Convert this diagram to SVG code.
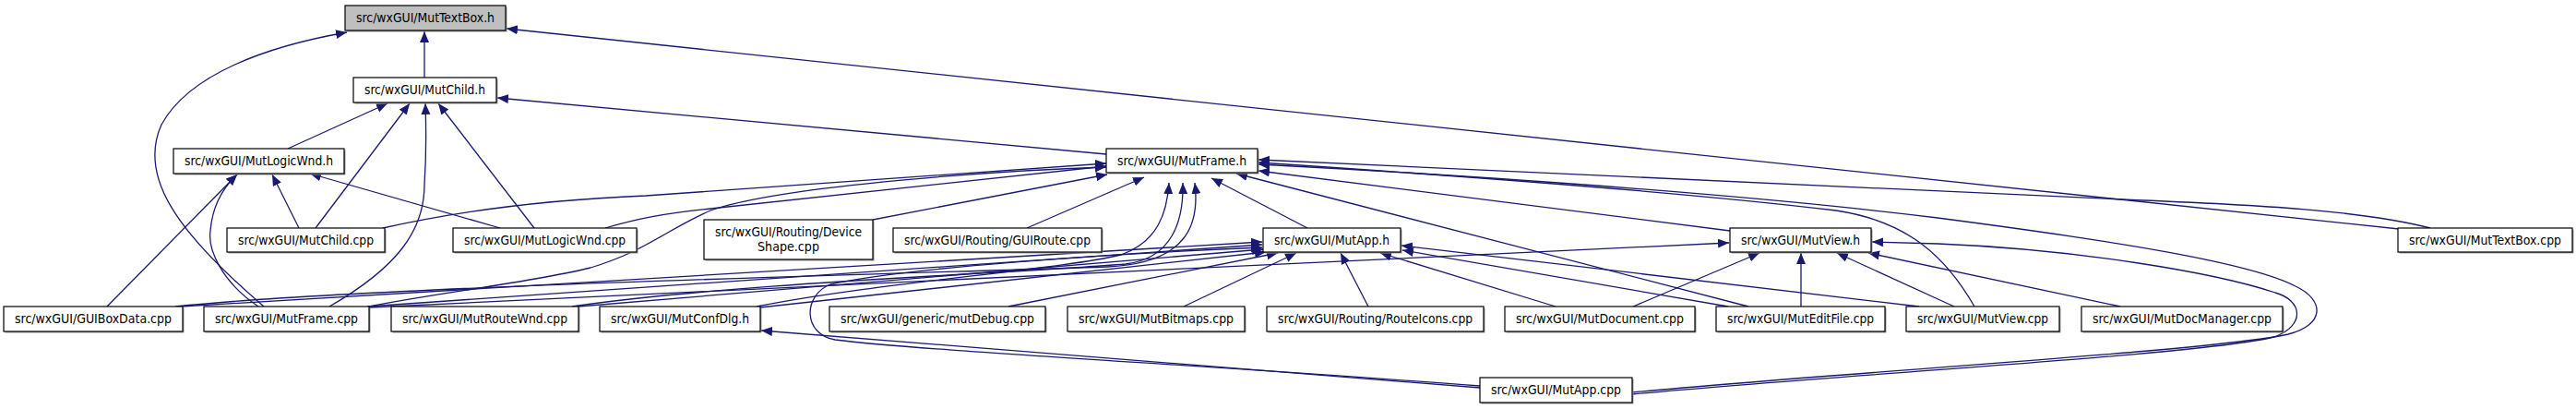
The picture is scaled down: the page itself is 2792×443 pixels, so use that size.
<svg xmlns="http://www.w3.org/2000/svg" width="2792" height="443" viewBox="0 0 2792 443">
<style>
.box{fill:#fff;stroke:#000;stroke-width:1.2}
.root .box{fill:#bfbfbf}
.sh{fill:#9a9a9a}
text{font-family:"DejaVu Sans Condensed","DejaVu Sans",sans-serif;font-stretch:condensed;font-size:13.3px;text-anchor:middle;fill:#000}
.e path{fill:none;stroke:#191970;stroke-width:1.3;marker-end:url(#ah)}
</style>
<defs>
<marker id="ah" markerUnits="userSpaceOnUse" markerWidth="13" markerHeight="11" refX="12" refY="5" orient="auto"><path d="M0,0 L12,5 L0,10 z" fill="#191970"/></marker>
</defs>
<rect width="2792" height="443" fill="#fff"/>
<g id="connectors" class="e">
<path d="M460,84 L460,34"/>
<path d="M286,332 C 190,250 150,190 175,135 C 205,80 290,50 376,35"/>
<path d="M2600,248 L549,31"/>
<path d="M312,161 L420,112"/>
<path d="M342,247 L444,112"/>
<path d="M357,332 C 430,290 460,250 460,200 C 462,170 462,140 461,112"/>
<path d="M579,247 L475,112"/>
<path d="M1199,167 L539,106"/>
<path d="M116,332 L257,189"/>
<path d="M280,332 C 240,305 225,270 228,250 C 230,225 240,205 257,189"/>
<path d="M324,247 L295,189"/>
<path d="M542,247 L336,188"/>
<path d="M415,247 C 500,228 600,216 700,212 L1199,177"/>
<path d="M656,247 C 690,237 720,231 770,226 L1199,180"/>
<path d="M400,332 C 470,318 580,305 640,290 C 700,272 720,250 770,228 C 850,200 1100,184 1199,181"/>
<path d="M946,238 L1200,189"/>
<path d="M1113,247 L1240,192"/>
<path d="M190,332 C 400,310 1000,296 1200,289 C 1290,285 1300,240 1295,198"/>
<path d="M620,332 C 800,306 1100,296 1220,286 C 1270,280 1283,240 1282,198"/>
<path d="M820,332 C 950,306 1150,292 1215,276 C 1255,262 1265,230 1267,198"/>
<path d="M1417,247 L1313,193"/>
<path d="M1895,332 L1340,188"/>
<path d="M2634,247 C 2560,228 2450,222 2300,216 L1364,173"/>
<path d="M2140,332 C 2110,280 2070,240 1990,228 C 1800,205 1500,185 1364,176"/>
<path d="M1769,425 C 2000,403 2400,380 2480,362 C 2520,352 2520,325 2488,310 C 2440,285 2300,262 2100,236 C 1850,205 1500,185 1364,178"/>
<path d="M1769,427 C 2000,405 2380,385 2465,365 C 2500,352 2495,325 2466,317 C 2400,295 2250,270 2100,264 L2029,262"/>
<path d="M1875,250 L1364,185"/>
<path d="M400,333 L1874,263"/>
<path d="M1770,332 L1907,274"/>
<path d="M1952,332 L1952,274"/>
<path d="M2118,332 L1991,274"/>
<path d="M2298,332 L2025,274"/>
<path d="M1604,420 L825,358"/>
<path d="M1604,418 C 1300,395 1000,380 905,368 C 870,362 870,320 900,308 C 980,290 1200,275 1368,268"/>
<path d="M196,332 L1368,262"/>
<path d="M398,332 L1368,265"/>
<path d="M627,332 L1369,270"/>
<path d="M824,333 L1372,273"/>
<path d="M1093,332 L1385,274"/>
<path d="M1283,332 L1405,274"/>
<path d="M1483,332 L1453,274"/>
<path d="M1686,332 L1496,274"/>
<path d="M1873,332 L1520,271"/>
<path d="M2080,332 L1519,266"/>
</g>
<g id="n_MutTextBox_h" class="root"><rect class="sh" x="375.5" y="7.5" width="174" height="27"/><rect class="box" x="374" y="6" width="174" height="27"/><text x="461" y="24" textLength="150" lengthAdjust="spacingAndGlyphs">src/wxGUI/MutTextBox.h</text></g>
<g id="n_MutChild_h"><rect class="sh" x="384.5" y="85.5" width="155" height="27"/><rect class="box" x="383" y="84" width="155" height="27"/><text x="460.5" y="102" textLength="131" lengthAdjust="spacingAndGlyphs">src/wxGUI/MutChild.h</text></g>
<g id="n_MutLogicWnd_h"><rect class="sh" x="189.5" y="162.5" width="185" height="27"/><rect class="box" x="188" y="161" width="185" height="27"/><text x="280.5" y="179" textLength="161" lengthAdjust="spacingAndGlyphs">src/wxGUI/MutLogicWnd.h</text></g>
<g id="n_MutFrame_h"><rect class="sh" x="1200.5" y="162.5" width="164" height="26"/><rect class="box" x="1199" y="161" width="164" height="26"/><text x="1281" y="179" textLength="140" lengthAdjust="spacingAndGlyphs">src/wxGUI/MutFrame.h</text></g>
<g id="n_MutChild_cpp"><rect class="sh" x="247.5" y="248.5" width="171" height="26"/><rect class="box" x="246" y="247" width="171" height="26"/><text x="331.5" y="265" textLength="147" lengthAdjust="spacingAndGlyphs">src/wxGUI/MutChild.cpp</text></g>
<g id="n_MutLogicWnd_cpp"><rect class="sh" x="492.5" y="248.5" width="199" height="26"/><rect class="box" x="491" y="247" width="199" height="26"/><text x="590.5" y="265" textLength="175" lengthAdjust="spacingAndGlyphs">src/wxGUI/MutLogicWnd.cpp</text></g>
<g id="n_DeviceShape_cpp"><rect class="sh" x="764.5" y="239.5" width="183" height="43"/><rect class="box" x="763" y="238" width="183" height="43"/><text x="854.5" y="256" textLength="159" lengthAdjust="spacingAndGlyphs">src/wxGUI/Routing/Device</text><text x="854.5" y="272" textLength="67" lengthAdjust="spacingAndGlyphs">Shape.cpp</text></g>
<g id="n_GUIRoute_cpp"><rect class="sh" x="969.5" y="248.5" width="226" height="26"/><rect class="box" x="968" y="247" width="226" height="26"/><text x="1081" y="265" textLength="202" lengthAdjust="spacingAndGlyphs">src/wxGUI/Routing/GUIRoute.cpp</text></g>
<g id="n_MutApp_h"><rect class="sh" x="1370.5" y="248.5" width="149" height="26"/><rect class="box" x="1369" y="247" width="149" height="26"/><text x="1443.5" y="265" textLength="125" lengthAdjust="spacingAndGlyphs">src/wxGUI/MutApp.h</text></g>
<g id="n_MutView_h"><rect class="sh" x="1876.5" y="248.5" width="153" height="26"/><rect class="box" x="1875" y="247" width="153" height="26"/><text x="1951.5" y="265" textLength="129" lengthAdjust="spacingAndGlyphs">src/wxGUI/MutView.h</text></g>
<g id="n_MutTextBox_cpp"><rect class="sh" x="2600.5" y="248.5" width="189" height="26"/><rect class="box" x="2599" y="247" width="189" height="26"/><text x="2693.5" y="265" textLength="165" lengthAdjust="spacingAndGlyphs">src/wxGUI/MutTextBox.cpp</text></g>
<g id="n_GUIBoxData_cpp"><rect class="sh" x="5.5" y="333.5" width="194" height="27"/><rect class="box" x="4" y="332" width="194" height="27"/><text x="101" y="350" textLength="170" lengthAdjust="spacingAndGlyphs">src/wxGUI/GUIBoxData.cpp</text></g>
<g id="n_MutFrame_cpp"><rect class="sh" x="222.5" y="333.5" width="179" height="27"/><rect class="box" x="221" y="332" width="179" height="27"/><text x="310.5" y="350" textLength="155" lengthAdjust="spacingAndGlyphs">src/wxGUI/MutFrame.cpp</text></g>
<g id="n_MutRouteWnd_cpp"><rect class="sh" x="425.5" y="333.5" width="203" height="27"/><rect class="box" x="424" y="332" width="203" height="27"/><text x="525.5" y="350" textLength="179" lengthAdjust="spacingAndGlyphs">src/wxGUI/MutRouteWnd.cpp</text></g>
<g id="n_MutConfDlg_h"><rect class="sh" x="651.5" y="333.5" width="174" height="27"/><rect class="box" x="650" y="332" width="174" height="27"/><text x="737" y="350" textLength="150" lengthAdjust="spacingAndGlyphs">src/wxGUI/MutConfDlg.h</text></g>
<g id="n_mutDebug_cpp"><rect class="sh" x="900.5" y="333.5" width="234" height="27"/><rect class="box" x="899" y="332" width="234" height="27"/><text x="1016" y="350" textLength="210" lengthAdjust="spacingAndGlyphs">src/wxGUI/generic/mutDebug.cpp</text></g>
<g id="n_MutBitmaps_cpp"><rect class="sh" x="1158.5" y="333.5" width="192" height="27"/><rect class="box" x="1157" y="332" width="192" height="27"/><text x="1253" y="350" textLength="168" lengthAdjust="spacingAndGlyphs">src/wxGUI/MutBitmaps.cpp</text></g>
<g id="n_RouteIcons_cpp"><rect class="sh" x="1374.5" y="333.5" width="235" height="27"/><rect class="box" x="1373" y="332" width="235" height="27"/><text x="1490.5" y="350" textLength="211" lengthAdjust="spacingAndGlyphs">src/wxGUI/Routing/RouteIcons.cpp</text></g>
<g id="n_MutDocument_cpp"><rect class="sh" x="1632.5" y="333.5" width="206" height="27"/><rect class="box" x="1631" y="332" width="206" height="27"/><text x="1734" y="350" textLength="182" lengthAdjust="spacingAndGlyphs">src/wxGUI/MutDocument.cpp</text></g>
<g id="n_MutEditFile_cpp"><rect class="sh" x="1861.5" y="333.5" width="183" height="27"/><rect class="box" x="1860" y="332" width="183" height="27"/><text x="1951.5" y="350" textLength="159" lengthAdjust="spacingAndGlyphs">src/wxGUI/MutEditFile.cpp</text></g>
<g id="n_MutView_cpp"><rect class="sh" x="2067.5" y="333.5" width="166" height="27"/><rect class="box" x="2066" y="332" width="166" height="27"/><text x="2149" y="350" textLength="142" lengthAdjust="spacingAndGlyphs">src/wxGUI/MutView.cpp</text></g>
<g id="n_MutDocManager_cpp"><rect class="sh" x="2257.5" y="333.5" width="218" height="27"/><rect class="box" x="2256" y="332" width="218" height="27"/><text x="2365" y="350" textLength="194" lengthAdjust="spacingAndGlyphs">src/wxGUI/MutDocManager.cpp</text></g>
<g id="n_MutApp_cpp"><rect class="sh" x="1605.5" y="410.5" width="165" height="27"/><rect class="box" x="1604" y="409" width="165" height="27"/><text x="1686.5" y="427" textLength="141" lengthAdjust="spacingAndGlyphs">src/wxGUI/MutApp.cpp</text></g>
</svg>
